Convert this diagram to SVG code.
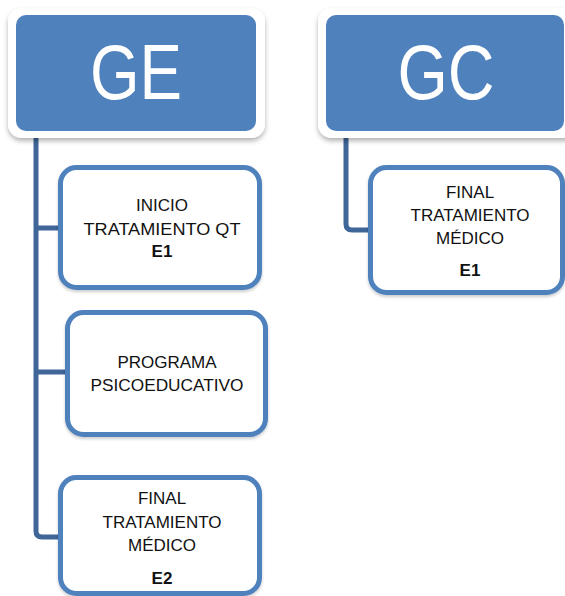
<svg xmlns="http://www.w3.org/2000/svg" width="565" height="596" viewBox="0 0 565 596">
<defs>
<filter id="sh" x="-10%" y="-10%" width="120%" height="130%">
<feDropShadow dx="0" dy="3" stdDeviation="2.5" flood-color="#000" flood-opacity="0.3"/>
</filter>
<filter id="sh2" x="-10%" y="-10%" width="120%" height="130%">
<feDropShadow dx="0" dy="2" stdDeviation="1.5" flood-color="#000" flood-opacity="0.2"/>
</filter>
</defs>
<style>
.hw{fill:#ffffff;filter:url(#sh);}
.hb{fill:#4f81bd;}
.ht{font-family:"Liberation Sans",Arial,sans-serif;font-size:78px;fill:#ffffff;text-anchor:middle;}
.box{fill:#ffffff;stroke:#4f81bd;stroke-width:5;filter:url(#sh2);}
.t{font-family:"Liberation Sans",Arial,sans-serif;font-size:17px;fill:#111111;text-anchor:middle;}
.b{font-weight:bold;}
.con{fill:none;stroke:#3e6699;stroke-width:5;stroke-linejoin:round;}
</style>
<g id="connectors">
<path class="con" d="M36 131 V531 Q36 537 42 537 H60"/>
<path class="con" d="M36 228 H60"/>
<path class="con" d="M36 372 H67"/>
<path class="con" d="M346 131 V224 Q346 230 352 230 H370"/>
</g>
<g id="GE">
<rect class="hw" x="8" y="8" width="257" height="130" rx="14"/>
<rect class="hb" x="16" y="15" width="240" height="116" rx="10"/>
<text class="ht" x="136" y="99" textLength="92" lengthAdjust="spacingAndGlyphs">GE</text>
</g>
<g id="GC">
<rect class="hw" x="318" y="8" width="260" height="130" rx="14"/>
<rect class="hb" x="326" y="15" width="238" height="116" rx="10"/>
<text class="ht" x="446" y="99" textLength="97" lengthAdjust="spacingAndGlyphs">GC</text>
</g>
<g id="inicio">
<rect class="box" x="60.5" y="167.5" width="199" height="120" rx="16"/>
<text class="t" x="162" y="211">INICIO</text>
<text class="t" x="162" y="235" textLength="157" lengthAdjust="spacingAndGlyphs">TRATAMIENTO QT</text>
<text class="t b" x="162" y="257">E1</text>
</g>
<g id="programa">
<rect class="box" x="67.5" y="312.5" width="198" height="122" rx="16"/>
<text class="t" x="167" y="368">PROGRAMA</text>
<text class="t" x="167" y="391" textLength="153" lengthAdjust="spacingAndGlyphs">PSICOEDUCATIVO</text>
</g>
<g id="final-ge">
<rect class="box" x="60.5" y="477.5" width="199" height="116" rx="16"/>
<text class="t" x="162" y="504">FINAL</text>
<text class="t" x="162" y="528">TRATAMIENTO</text>
<text class="t" x="162" y="551">MÉDICO</text>
<text class="t b" x="162" y="584">E2</text>
</g>
<g id="final-gc">
<rect class="box" x="370.5" y="167.5" width="192" height="125" rx="16"/>
<text class="t" x="470" y="198">FINAL</text>
<text class="t" x="470" y="221">TRATAMIENTO</text>
<text class="t" x="470" y="244">MÉDICO</text>
<text class="t b" x="470" y="276">E1</text>
</g>
</svg>
